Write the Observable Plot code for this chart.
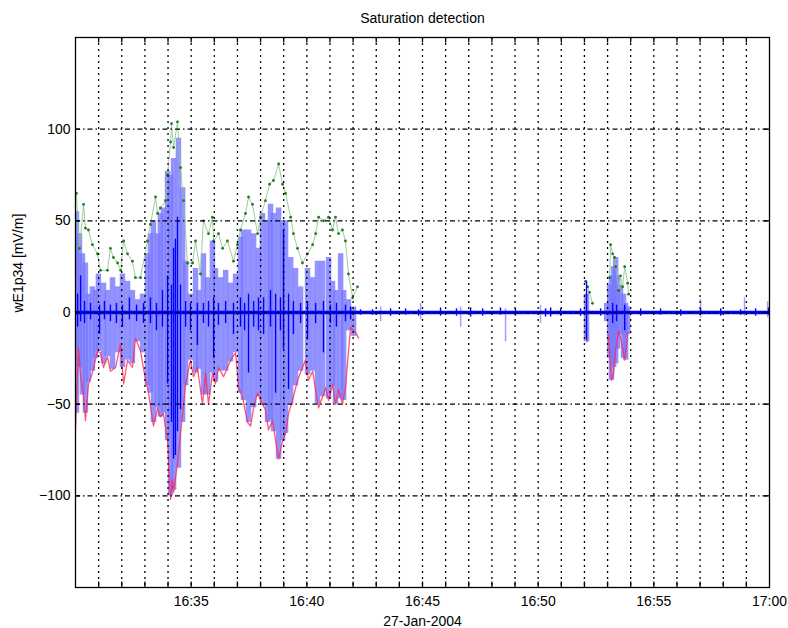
<!DOCTYPE html>
<html><head><meta charset="utf-8">
<script src="https://cdn.jsdelivr.net/npm/d3@7"></script>
<script src="https://cdn.jsdelivr.net/npm/@observablehq/plot@0.6"></script>
<style>body{margin:0;background:#fff;} svg{display:block;}</style>
</head><body><div id="chart"></div>
<script>
// time values are minutes after 16:30 UT, 27-Jan-2004
const T0 = Date.UTC(2004, 0, 27, 16, 30);
const at = m => new Date(T0 + m * 60000);

// Upper envelope (green points)
const greenTime = [0.04,0.17,0.35,0.43,0.56,0.73,0.95,1.08,1.38,1.51,1.64,1.82,1.95,2.08,2.25,2.46,2.59,2.81,3.11,3.24,3.46,3.55,3.67,3.89,3.98,4.11,4.15,4.24,4.41,4.54,4.67,4.84,5.06,5.19,5.40,5.53,5.75,5.92,5.97,6.18,6.36,6.57,6.83,7.00,7.13,7.35,7.48,7.65,7.87,8.00,8.21,8.39,8.56,8.78,8.95,9.08,9.30,9.42,9.60,9.81,10.03,10.25,10.38,10.51,10.72,10.94,11.11,11.24,11.37,11.54,11.67,11.80,11.98,12.19,
  22.05,22.14,22.22,22.35,
  23.09,23.13,23.22,23.30,23.35,23.48,23.56,23.65,23.74,23.87,23.91];
const greenVal = [65,35,59,46,45,37,32,23,23,35,30,27,23,39,32,28,19,19,39,48,63,54,57,61,75,93,103,90,104,79,61,27,27,39,21,50,43,52,39,43,35,39,28,37,45,54,63,59,43,52,61,70,72,81,70,65,52,43,35,27,32,37,43,52,50,52,45,52,43,45,39,21,8,14,
  17,14,11,5,
  19,37,32,30,25,12,20,14,25,16,10];

// Lower envelope (red line)
const redTime = [0.00,0.13,0.22,0.35,0.43,0.56,0.73,0.95,1.08,1.21,1.38,1.51,1.73,1.95,2.08,2.25,2.46,2.59,2.81,3.03,3.16,3.37,3.55,3.67,3.80,3.98,4.11,4.19,4.24,4.41,4.54,4.76,4.97,5.10,5.27,5.49,5.62,5.75,5.92,6.05,6.18,6.40,6.57,6.79,6.92,7.05,7.22,7.44,7.57,7.70,7.87,8.08,8.21,8.34,8.52,8.65,8.78,8.95,9.08,9.21,9.38,9.60,9.81,9.94,10.07,10.25,10.38,10.51,10.68,10.81,10.94,11.11,11.24,11.37,11.54,11.67,
  11.89,12.11,12.24,
  22.07,22.11,
  23.04,23.13,23.17,23.26,23.35,23.48,23.56,23.65,23.74,23.82,23.87];
const redVal = [-64,-19,-35,-46,-59,-39,-33,-21,-22,-30,-24,-32,-30,-17,-39,-26,-30,-14,-21,-37,-44,-62,-52,-57,-55,-70,-102,-91,-98,-82,-66,-39,-26,-35,-30,-50,-33,-50,-33,-39,-30,-35,-30,-24,-22,-41,-46,-60,-62,-52,-44,-50,-53,-64,-59,-70,-80,-70,-66,-55,-48,-37,-30,-26,-37,-32,-42,-52,-46,-41,-48,-39,-50,-42,-50,-41,
  -8,-11,-14,
  -10,-16,
  -12,-30,-37,-33,-20,-10,-14,-20,-26,-18,-11];

// Sample range (light blue)
const lbTime = [0.04,0.17,0.30,0.43,0.56,0.73,0.86,0.99,1.21,1.38,1.60,1.82,2.03,2.25,2.46,2.68,2.90,3.11,3.24,3.37,3.55,3.67,3.80,3.98,4.11,4.24,4.45,4.63,4.76,4.97,5.19,5.32,5.53,5.71,5.92,6.05,6.27,6.49,6.70,6.92,7.13,7.26,7.48,7.70,7.91,8.08,8.30,8.43,8.56,8.78,8.95,9.08,9.30,9.51,9.73,10.03,10.25,10.46,10.68,10.94,11.11,11.24,11.46,11.59,11.80,12.02,
  22.09,22.96,23.09,23.17,23.26,23.35,23.43,23.56,23.69,23.78,23.87];
const lbTop = [55,43,32,27,10,14,12,21,16,12,19,14,21,17,12,7,10,32,43,50,43,54,57,77,75,84,95,68,28,10,24,12,32,19,39,24,19,23,16,21,41,45,45,43,35,54,50,59,54,57,50,50,30,24,14,24,19,28,28,30,17,12,32,12,7,3,
  10,5,15,20,25,30,20,15,10,5,3];
const lbBot = [-55,-30,-45,-55,-38,-32,-25,-21,-28,-24,-31,-22,-30,-26,-28,-16,-22,-40,-44,-60,-52,-57,-55,-70,-100,-97,-85,-60,-40,-26,-33,-31,-45,-45,-33,-38,-32,-32,-27,-22,-44,-48,-60,-52,-46,-50,-60,-59,-65,-80,-70,-66,-50,-40,-32,-34,-32,-50,-46,-47,-40,-50,-47,-48,-10,-13,
  -16,-5,-25,-37,-30,-28,-20,-12,-25,-26,-12];

// Isolated light blue spikes in the quiet interval
const lbSpikeTime = [13.19,14.92,16.65,18.59,20.10,27.02,28.92,29.92];
const lbSpikeTop = [3,5,3,2,4,7,8,6];
const lbSpikeBot = [-5,-4,-8,-16,-6,-3,-2,-3];

// Measured signal (dark blue) excursions
const dbTime = [0.09,0.22,0.39,0.65,1.04,1.25,1.51,1.77,2.03,2.33,2.64,2.94,3.24,3.50,3.76,3.98,4.15,4.24,4.32,4.41,4.54,4.76,4.97,5.27,5.53,5.75,5.97,6.18,6.49,6.83,7.13,7.31,7.48,7.70,7.91,8.13,8.43,8.65,8.86,8.99,9.21,9.42,9.73,10.03,10.38,10.72,11.02,11.28,11.67,11.89,12.32,12.84,13.62,14.27,14.83,15.78,16.47,17.08,17.60,18.37,19.02,20.32,20.54,20.97,21.83,22.09,22.70,23.22,23.39,23.74,24.43,25.29,26.16,27.02,27.89,28.75,29.40,29.96];
const dbLo = [-8,-5,-6,-4,-12,-4,-5,-6,-8,-4,-5,-6,-6,-10,-8,-39,-60,-80,-78,-65,-53,-8,-10,-18,-6,-8,-25,-7,-6,-12,-8,-10,-33,-8,-10,-12,-8,-44,-10,-20,-42,-12,-6,-15,-6,-22,-6,-8,-5,-4,-1.5,-1.5,-2,-1.5,-2,-2,-2,-2.5,-2,-1.5,-2,-2.5,-2.5,-2,-2,-15,-2,-6,-5,-10,-2,-1.5,-2,-1.5,-2,-1.5,-2,-1.5];
const dbHi = [10,20,6,5,4,6,4,5,4,8,4,5,8,5,12,20,15,35,40,52,15,6,5,5,5,6,8,5,6,5,8,5,10,6,8,8,12,10,8,45,10,6,5,6,5,6,4,5,4,3,1.5,1.5,2,2,1.5,2.5,2,2.5,2,2.5,2,2,2.5,2,2,17,2,5,4,4,2,2,1.5,2,2,1.5,2,2.5];

const xTickMinutes = [5,10,15,20,25,30];
const gridMinutes = [1,2,3,4,5,6,7,8,9,10,11,12,13,14,15,16,17,18,19,20,21,22,23,24,25,26,27,28,29];
const yTicks = [-100,-50,0,50,100];

const seg = times => { let s = 0; return times.map((t, i) => (i > 0 && t - times[i-1] > 0.3 ? ++s : s)); };
const gSeg = seg(greenTime), rSeg = seg(redTime);
const greenRows = greenTime.map((t, i) => ({t: at(t), v: greenVal[i], s: gSeg[i]}));
const redRows = redTime.map((t, i) => ({t: at(t), v: redVal[i], s: rSeg[i]}));
const lbRows = lbTime.map((t, i) => ({t: at(t), hi: lbTop[i], lo: lbBot[i]}));
const lbSpikeRows = lbSpikeTime.map((t, i) => ({t: at(t), hi: lbSpikeTop[i], lo: lbSpikeBot[i]}));
const dbRows = dbTime.map((t, i) => ({t: at(t), hi: dbHi[i], lo: dbLo[i]}));
const gridDates = gridMinutes.map(at);
const xTickDates = xTickMinutes.map(at);
const FONT = "'Liberation Sans', Arial, Helvetica, sans-serif";

const plot = Plot.plot({
  width: 788, height: 628,
  marginLeft: 75, marginRight: 19, marginTop: 37, marginBottom: 41,
  style: {fontFamily: FONT, fontSize: "14px", color: "#000", background: "#fff"},
  x: {type: "utc", domain: [at(0), at(30)]},
  y: {domain: [-150, 150]},
  marks: [
    Plot.ruleX(lbRows, {x: "t", y1: "lo", y2: "hi", stroke: "#7878ff", strokeOpacity: 0.8, strokeWidth: 5.5, clip: true}),
    Plot.ruleX(lbSpikeRows, {x: "t", y1: "lo", y2: "hi", stroke: "#a0a0ff", strokeWidth: 1.5, clip: true}),
    Plot.line(redRows, {x: "t", y: "v", z: "s", stroke: "#ff2a55", strokeOpacity: 0.8, strokeWidth: 1.3, clip: true}),
    Plot.line(greenRows, {x: "t", y: "v", z: "s", stroke: "#8cc48c", strokeOpacity: 0.85, strokeWidth: 1, clip: true}),
    Plot.dot(greenRows, {x: "t", y: "v", r: 1.4, fill: "#1f7a1f", stroke: null, clip: true}),
    Plot.ruleY([0], {stroke: "#0000ff", strokeWidth: 3.5}),
    Plot.ruleX(dbRows, {x: "t", y1: "lo", y2: "hi", stroke: "#0000ff", strokeWidth: 1.4, clip: true}),
    Plot.ruleX(gridDates, {x: d => d, stroke: "#000", strokeWidth: 1.3, strokeDasharray: "2,4"}),
    Plot.ruleY(yTicks, {y: d => d, stroke: "#000", strokeWidth: 1.2, strokeDasharray: "5,3,1.5,3"}),
    Plot.ruleX(gridDates, {x: d => d, y1: -150, y2: -147, stroke: "#000", strokeWidth: 1.3}),
    Plot.ruleX(gridDates, {x: d => d, y1: 150, y2: 147, stroke: "#000", strokeWidth: 1.3}),
    Plot.ruleY(yTicks, {y: d => d, x1: at(0), x2: at(0.22), stroke: "#000", strokeWidth: 1.3}),
    Plot.ruleY(yTicks, {y: d => d, x1: at(29.78), x2: at(30), stroke: "#000", strokeWidth: 1.3}),
    Plot.frame({stroke: "#000", strokeWidth: 1.3}),
    Plot.axisX(xTickDates, {tickSize: 0, tickPadding: 9, tickFormat: d3.utcFormat("%H:%M"), label: null, fontSize: 14}),
    Plot.axisY(yTicks, {tickSize: 0, tickPadding: 5, label: null, fontSize: 14}),
    Plot.text(["Saturation detection"], {text: d => d, frameAnchor: "top", dy: -19, fontSize: 14, lineAnchor: "middle"}),
    Plot.text(["27-Jan-2004"], {text: d => d, frameAnchor: "bottom", dy: 34, fontSize: 14, lineAnchor: "middle"}),
    Plot.text(["wE1p34 [mV/m]"], {text: d => d, frameAnchor: "left", dx: -57, rotate: -90, fontSize: 14, lineAnchor: "middle"})
  ]
});
document.getElementById("chart").appendChild(plot);
</script>
</body></html>
